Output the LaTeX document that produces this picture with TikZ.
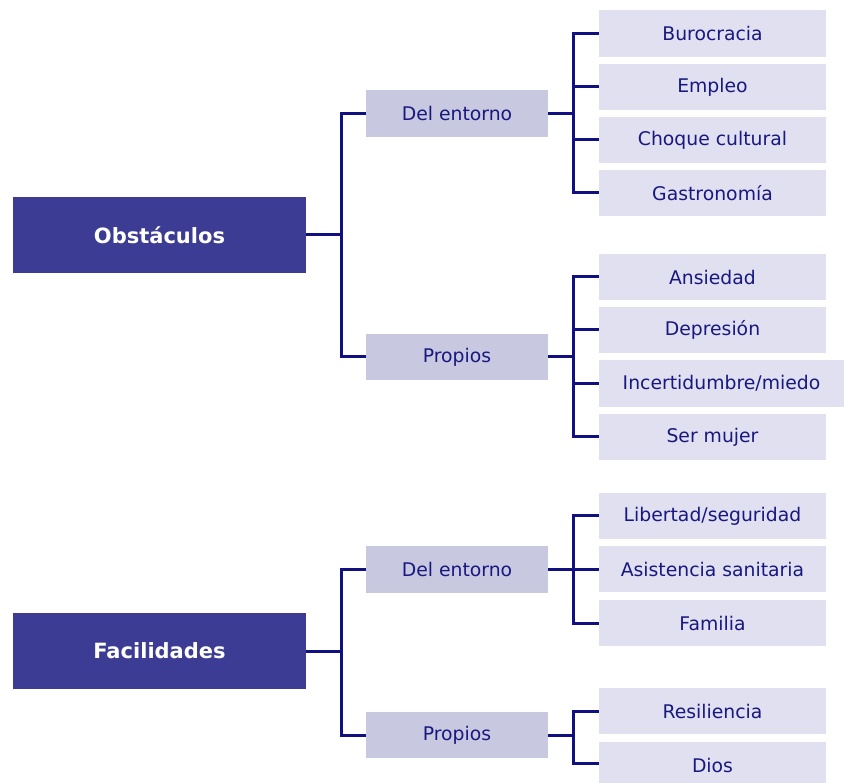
\documentclass[tikz,border=0pt]{standalone}
\usepackage{fontspec}
\setmainfont{DejaVu Sans}
\definecolor{mainc}{RGB}{60,60,148}
\definecolor{midc}{RGB}{200,200,224}
\definecolor{leafc}{RGB}{224,224,240}
\definecolor{txtc}{RGB}{24,24,128}
\definecolor{linec}{RGB}{16,16,128}
\tikzset{
  mainbox/.style={rectangle, fill=mainc, inner sep=0pt, minimum width=293pt, minimum height=76pt, text=white, font=\fontsize{21}{24}\selectfont\bfseries},
  midbox/.style={rectangle, fill=midc, inner sep=0pt, minimum width=182pt, minimum height=46.5pt, text=txtc, font=\fontsize{18.8}{22}\selectfont},
  leafbox/.style={rectangle, fill=leafc, inner sep=0pt, minimum width=227pt, minimum height=46.5pt, text=txtc, font=\fontsize{18.8}{22}\selectfont},
  conn/.style={draw=linec, line width=3pt}
}
\begin{document}
\begin{tikzpicture}[x=1pt,y=-1pt]
\clip (0,0) rectangle (844,783);
\fill[white] (0,0) rectangle (844,783);
% main
\node[mainbox] (ob) at (159.5,235) {Obstáculos};
\node[mainbox] (fa) at (159.5,651) {Facilidades};
% mid
\node[midbox] (d1) at (457,113.5) {Del entorno};
\node[midbox] (p1) at (457,357) {Propios};
\node[midbox] (d2) at (457,569.5) {Del entorno};
\node[midbox] (p2) at (457,735) {Propios};
% leaves
\node[leafbox] (l1) at (712.5,33.5) {Burocracia};
\node[leafbox] (l2) at (712.5,87) {Empleo};
\node[leafbox] (l3) at (712.5,140) {Choque cultural};
\node[leafbox] (l4) at (712.5,193) {Gastronomía};
\node[leafbox] (l5) at (712.5,277) {Ansiedad};
\node[leafbox] (l6) at (712.5,330) {Depresión};
\node[leafbox, minimum width=245pt] (l7) at (721.5,383.5) {Incertidumbre/miedo};
\node[leafbox] (l8) at (712.5,437) {Ser mujer};
\node[leafbox] (l9) at (712.5,516) {Libertad/seguridad};
\node[leafbox] (l10) at (712.5,569) {Asistencia sanitaria};
\node[leafbox] (l11) at (712.5,623) {Familia};
\node[leafbox] (l12) at (712.5,711) {Resiliencia};
\node[leafbox] (l13) at (712.5,765.5) {Dios};
% junctions
\coordinate (jo) at (341,235);
\coordinate (jf) at (341,651);
\coordinate (ja) at (573,113.5);
\coordinate (jb) at (573,357);
\coordinate (jc) at (573,569.5);
\coordinate (jd) at (573,735);
\coordinate (dl) at (599,763);
% main to mid
\draw[conn] (ob.east) -- (jo);
\draw[conn] (d1.west) -| (jo) |- (p1.west);
\draw[conn] (fa.east) -- (jf);
\draw[conn] (d2.west) -| (jf) |- (p2.west);
% mid to leaves
\draw[conn] (d1.east) -- (ja);
\draw[conn] (l1.west) -| (ja) |- (l4.west);
\draw[conn] (l2.west) -- (l2.west -| ja);
\draw[conn] (l3.west) -- (l3.west -| ja);
\draw[conn] (p1.east) -- (jb);
\draw[conn] (l5.west) -| (jb) |- (l8.west);
\draw[conn] (l6.west) -- (l6.west -| jb);
\draw[conn] (l7.west) -- (l7.west -| jb);
\draw[conn] (d2.east) -- (jc);
\draw[conn] (l9.west) -| (jc) |- (l11.west);
\draw[conn] (l10.west) -- (l10.west -| jc);
\draw[conn] (p2.east) -- (jd);
\draw[conn] (l12.west) -| (jd) |- (dl);
\end{tikzpicture}
\end{document}
